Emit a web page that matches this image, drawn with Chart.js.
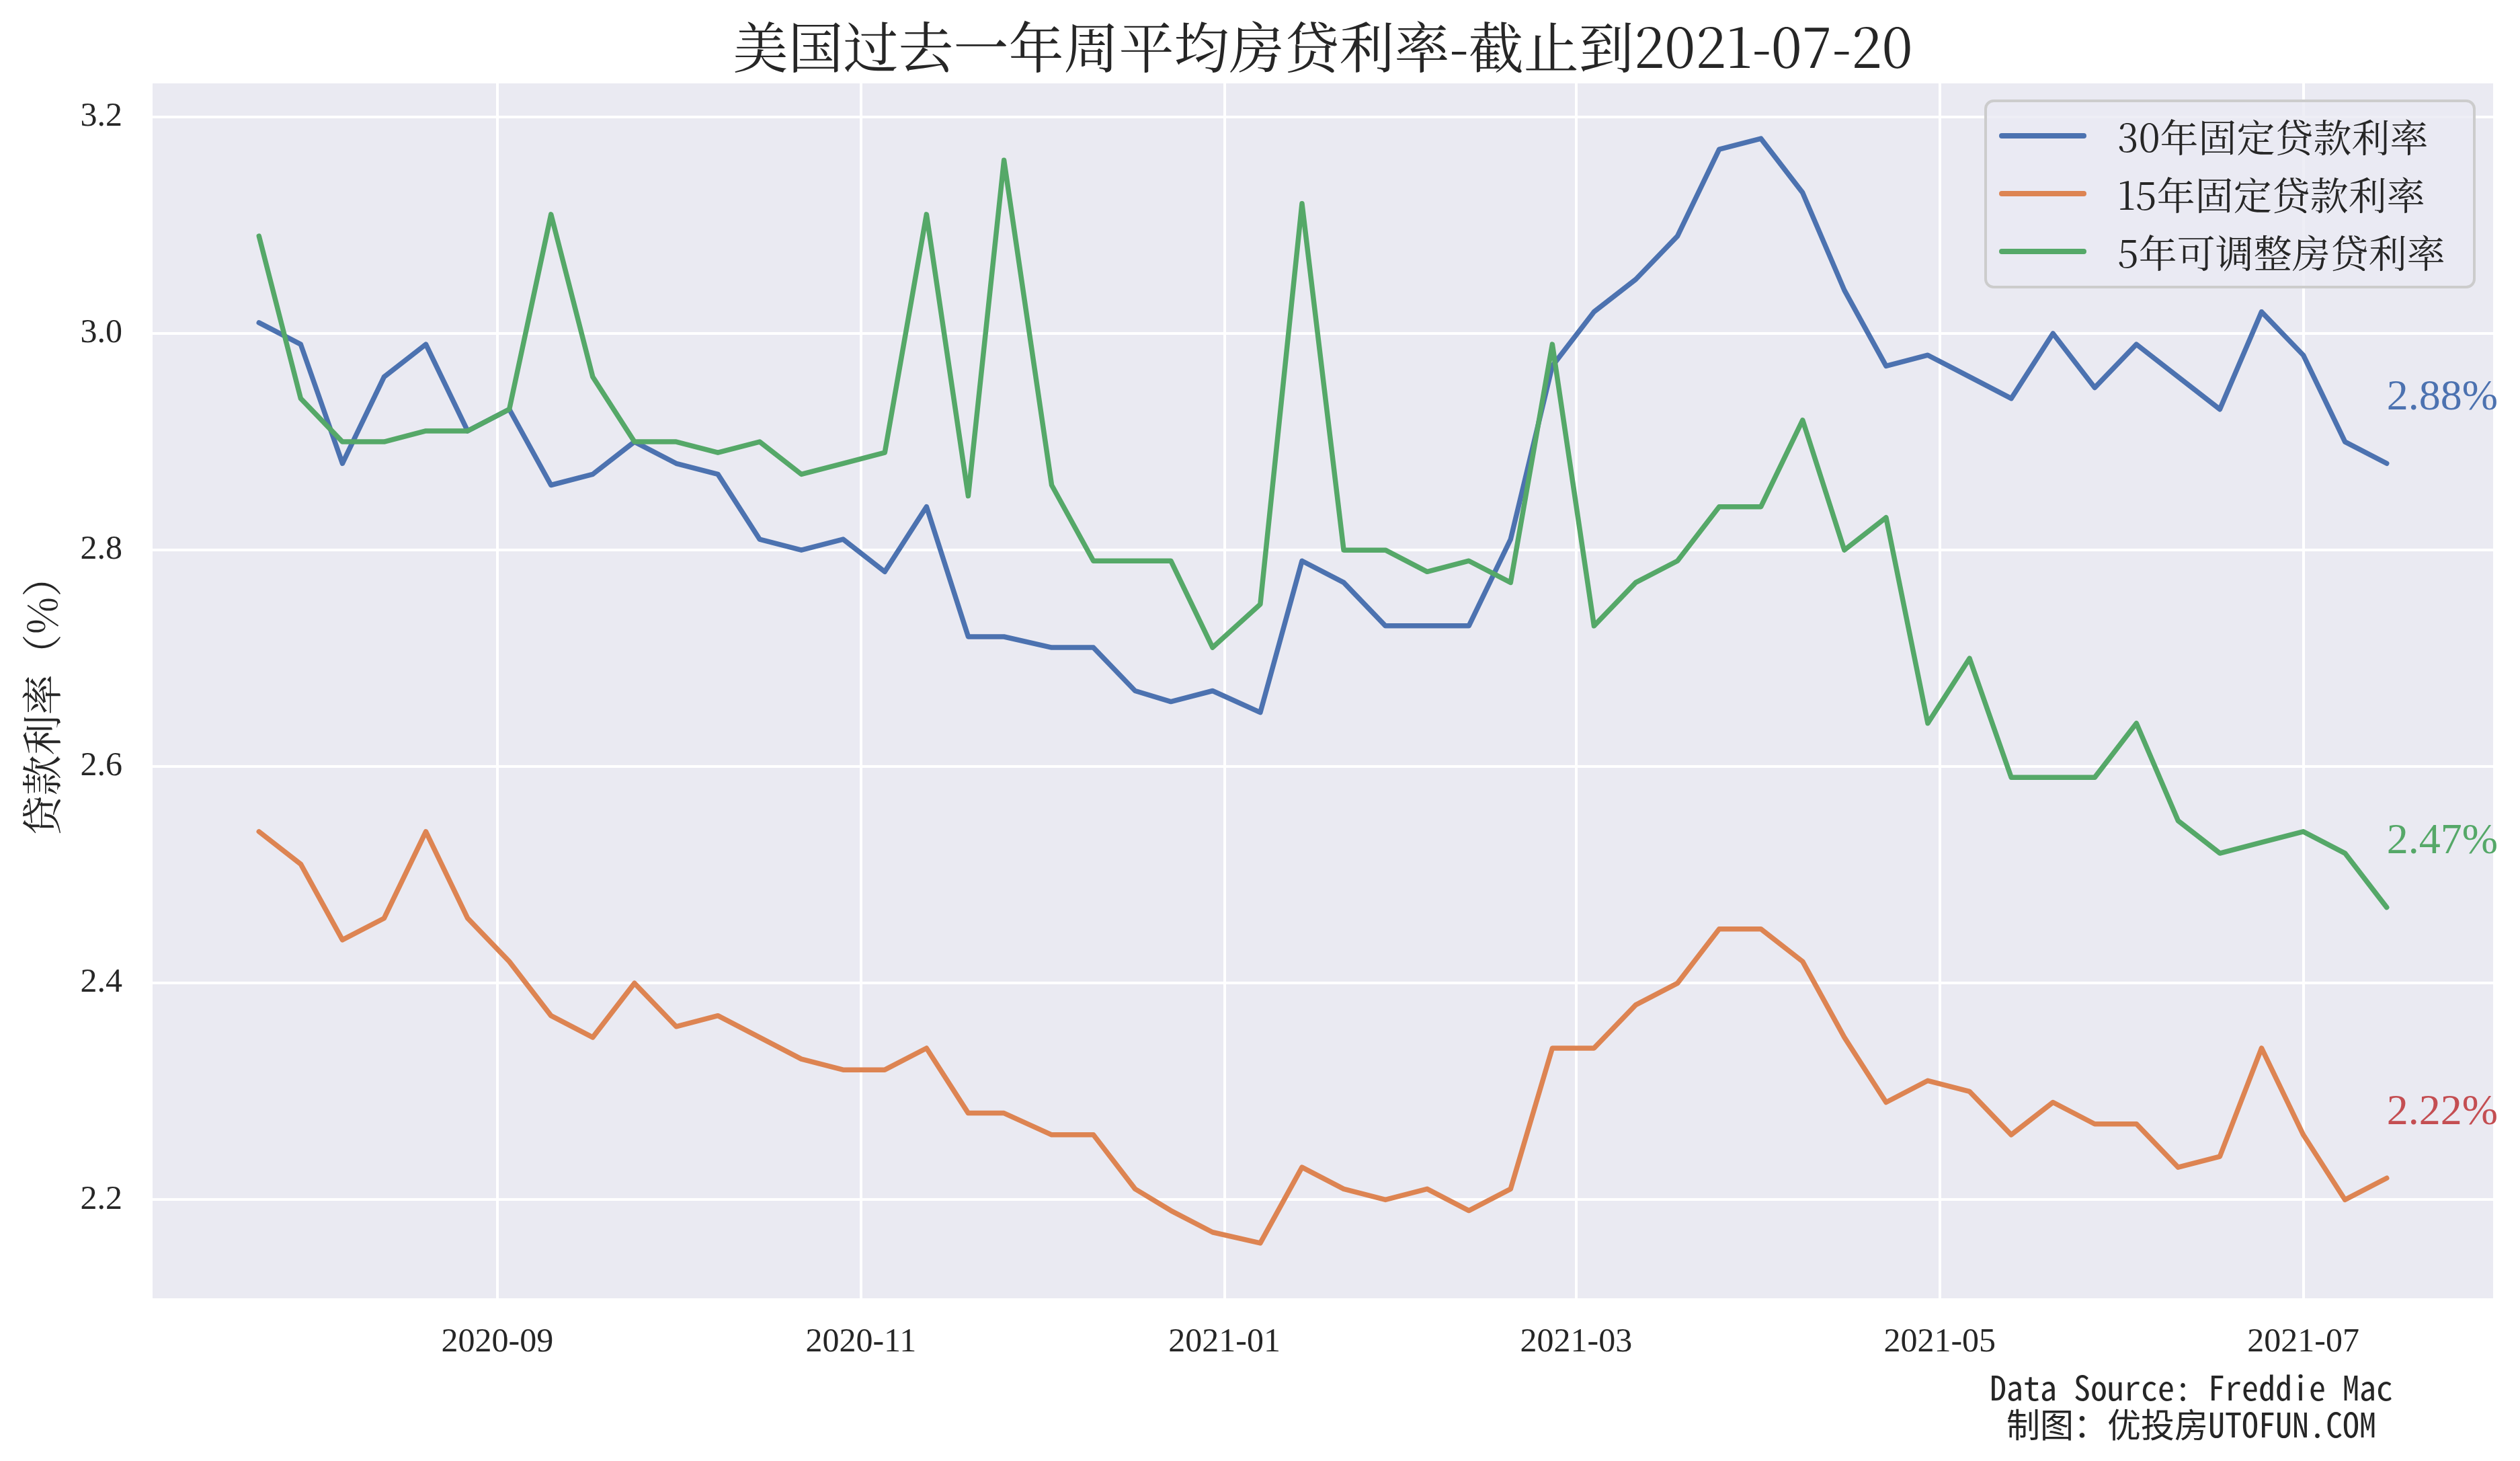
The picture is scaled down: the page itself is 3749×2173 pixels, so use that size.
<!DOCTYPE html>
<html>
<head>
<meta charset="utf-8">
<script src="https://cdn.jsdelivr.net/npm/chart.js@4.4.1/dist/chart.umd.min.js"></script>
<style>
  html, body { margin: 0; padding: 0; background: #ffffff; }
  #wrap { width: 3749px; height: 2173px; position: relative; }
</style>
</head>
<body>
<div id="wrap"><canvas id="c" width="3749" height="2173"></canvas></div>
<script>
// ---------------- data ----------------
const chartTitle = '美国过去一年周平均房贷利率-截止到2021-07-20';
const yAxisLabel = '贷款利率（%）';
const seriesNames = ['30年固定贷款利率', '15年固定贷款利率', '5年可调整房贷利率'];
const footerLines = ['Data Source: Freddie Mac', '制图：优投房UTOFUN.COM'];

const dates = [
  '2020-07-23','2020-07-30','2020-08-06','2020-08-13','2020-08-20','2020-08-27',
  '2020-09-03','2020-09-10','2020-09-17','2020-09-24','2020-10-01','2020-10-08',
  '2020-10-15','2020-10-22','2020-10-29','2020-11-05','2020-11-12','2020-11-19',
  '2020-11-25','2020-12-03','2020-12-10','2020-12-17','2020-12-23','2020-12-30',
  '2021-01-07','2021-01-14','2021-01-21','2021-01-28','2021-02-04','2021-02-11',
  '2021-02-18','2021-02-25','2021-03-04','2021-03-11','2021-03-18','2021-03-25',
  '2021-04-01','2021-04-08','2021-04-15','2021-04-22','2021-04-29','2021-05-06',
  '2021-05-13','2021-05-20','2021-05-27','2021-06-03','2021-06-10','2021-06-17',
  '2021-06-24','2021-07-01','2021-07-08','2021-07-15'
];

const rate30 = [
  3.01, 2.99, 2.88, 2.96, 2.99, 2.91, 2.93, 2.86, 2.87, 2.90, 2.88, 2.87,
  2.81, 2.80, 2.81, 2.78, 2.84, 2.72, 2.72, 2.71, 2.71, 2.67, 2.66, 2.67,
  2.65, 2.79, 2.77, 2.73, 2.73, 2.73, 2.81, 2.97, 3.02, 3.05, 3.09, 3.17,
  3.18, 3.13, 3.04, 2.97, 2.98, 2.96, 2.94, 3.00, 2.95, 2.99, 2.96, 2.93,
  3.02, 2.98, 2.90, 2.88
];

const rate15 = [
  2.54, 2.51, 2.44, 2.46, 2.54, 2.46, 2.42, 2.37, 2.35, 2.40, 2.36, 2.37,
  2.35, 2.33, 2.32, 2.32, 2.34, 2.28, 2.28, 2.26, 2.26, 2.21, 2.19, 2.17,
  2.16, 2.23, 2.21, 2.20, 2.21, 2.19, 2.21, 2.34, 2.34, 2.38, 2.40, 2.45,
  2.45, 2.42, 2.35, 2.29, 2.31, 2.30, 2.26, 2.29, 2.27, 2.27, 2.23, 2.24,
  2.34, 2.26, 2.20, 2.22
];

const arm5 = [
  3.09, 2.94, 2.90, 2.90, 2.91, 2.91, 2.93, 3.11, 2.96, 2.90, 2.90, 2.89,
  2.90, 2.87, 2.88, 2.89, 3.11, 2.85, 3.16, 2.86, 2.79, 2.79, 2.79, 2.71,
  2.75, 3.12, 2.80, 2.80, 2.78, 2.79, 2.77, 2.99, 2.73, 2.77, 2.79, 2.84,
  2.84, 2.92, 2.80, 2.83, 2.64, 2.70, 2.59, 2.59, 2.59, 2.64, 2.55, 2.52,
  2.53, 2.54, 2.52, 2.47
];

const yTickValues = [2.2, 2.4, 2.6, 2.8, 3.0, 3.2];
const xTickDates = ['2020-09-01', '2020-11-01', '2021-01-01', '2021-03-01', '2021-05-01', '2021-07-01'];
const xTickLabels = ['2020-09', '2020-11', '2021-01', '2021-03', '2021-05', '2021-07'];

// ---------------- helpers ----------------
function dayNum(s) {
  const p = s.split('-').map(Number);
  return Date.UTC(p[0], p[1] - 1, p[2]) / 86400000;
}
const xs = dates.map(dayNum);
const xTickNums = xTickDates.map(dayNum);
const toPoints = arr => arr.map((v, i) => ({ x: xs[i], y: v }));

const lineColors = ['#4C72B0', '#DD8452', '#55A868'];
const labelColors = ['#4C72B0', '#C44E52', '#55A868'];
const seriesData = [rate30, rate15, arm5];

const xFirst = xs[0], xLast = xs[xs.length - 1];
const xPad = (xLast - xFirst) * 0.05;
const allY = rate30.concat(rate15, arm5);
const yLo = Math.min(...allY), yHi = Math.max(...allY);
const yPad = (yHi - yLo) * 0.05;

const TEXT = '#262626';
const SERIF = '"Liberation Serif", "DejaVu Serif", serif';
const CJK = '"Noto Serif CJK SC", "Noto Sans Mono CJK SC", "Noto Sans CJK SC", sans-serif';
const CJKMONO = '"Noto Sans Mono CJK SC", "Noto Sans CJK SC", sans-serif';

// ---------------- plugins ----------------
const bgPlugin = {
  id: 'bg',
  beforeDraw(chart) {
    const { ctx, chartArea: a } = chart;
    ctx.save();
    ctx.fillStyle = '#ffffff';
    ctx.fillRect(0, 0, chart.width, chart.height);
    ctx.fillStyle = '#EAEAF2';
    ctx.fillRect(a.left, a.top, a.right - a.left, a.bottom - a.top);
    ctx.restore();
  }
};

function roundRect(ctx, x, y, w, h, r) {
  ctx.beginPath();
  ctx.moveTo(x + r, y);
  ctx.lineTo(x + w - r, y);
  ctx.arcTo(x + w, y, x + w, y + r, r);
  ctx.lineTo(x + w, y + h - r);
  ctx.arcTo(x + w, y + h, x + w - r, y + h, r);
  ctx.lineTo(x + r, y + h);
  ctx.arcTo(x, y + h, x, y + h - r, r);
  ctx.lineTo(x, y + r);
  ctx.arcTo(x, y, x + r, y, r);
  ctx.closePath();
}

const decoPlugin = {
  id: 'deco',
  afterDraw(chart) {
    const { ctx, chartArea: a } = chart;
    const xS = chart.scales.x, yS = chart.scales.y;
    ctx.save();

    // title
    ctx.fillStyle = TEXT;
    ctx.font = '82px ' + CJK;
    ctx.textAlign = 'center';
    ctx.textBaseline = 'middle';
    ctx.fillText(chartTitle, (a.left + a.right) / 2, 70);

    // y axis label
    ctx.save();
    ctx.translate(62, (a.top + a.bottom) / 2 + 8);
    ctx.rotate(-Math.PI / 2);
    ctx.font = '60px ' + CJK;
    ctx.textAlign = 'center';
    ctx.textBaseline = 'middle';
    ctx.fillText(yAxisLabel, 0, 0);
    ctx.restore();

    // last-value annotations
    ctx.font = '64px ' + SERIF;
    ctx.textAlign = 'left';
    ctx.textBaseline = 'alphabetic';
    seriesData.forEach((arr, i) => {
      const v = arr[arr.length - 1];
      ctx.fillStyle = labelColors[i];
      ctx.fillText(v.toFixed(2) + '%', xS.getPixelForValue(xLast), yS.getPixelForValue(v + 0.05));
    });

    // legend
    const lx = 2954, ly = 150, lw = 727, lh = 277;
    roundRect(ctx, lx, ly, lw, lh, 12);
    ctx.fillStyle = 'rgba(234,234,242,0.8)';
    ctx.fill();
    ctx.lineWidth = 4;
    ctx.strokeStyle = '#CCCCCC';
    ctx.stroke();
    ctx.font = '57px ' + CJK;
    ctx.textBaseline = 'middle';
    ctx.textAlign = 'left';
    seriesNames.forEach((name, i) => {
      const yy = 202 + i * 86;
      ctx.beginPath();
      ctx.moveTo(2978, yy);
      ctx.lineTo(3100, yy);
      ctx.strokeStyle = lineColors[i];
      ctx.lineWidth = 8;
      ctx.lineCap = 'round';
      ctx.stroke();
      ctx.fillStyle = TEXT;
      ctx.fillText(name, 3150, yy + 2);
    });

    // footer
    ctx.fillStyle = TEXT;
    ctx.font = '50px ' + CJKMONO;
    ctx.textAlign = 'center';
    ctx.textBaseline = 'alphabetic';
    ctx.fillText(footerLines[0], 3260, 2083);
    ctx.fillText(footerLines[1], 3260, 2138);

    ctx.restore();
  }
};

// ---------------- chart ----------------
const datasets = seriesData.map((arr, i) => ({
  label: seriesNames[i],
  data: toPoints(arr),
  borderColor: lineColors[i],
  backgroundColor: lineColors[i],
  borderWidth: 7.5,
  pointRadius: 0,
  pointHoverRadius: 0,
  tension: 0,
  fill: false,
  borderCapStyle: 'round',
  borderJoinStyle: 'round',
  order: 2 - i
}));

new Chart(document.getElementById('c'), {
  type: 'line',
  data: { datasets },
  plugins: [bgPlugin, decoPlugin],
  options: {
    responsive: false,
    animation: false,
    devicePixelRatio: 1,
    layout: { padding: { left: 0, right: 40, top: 124, bottom: 0 } },
    plugins: {
      legend: { display: false },
      title: { display: false },
      tooltip: { enabled: false }
    },
    scales: {
      x: {
        type: 'linear',
        min: xFirst - xPad,
        max: xLast + xPad,
        afterBuildTicks(scale) { scale.ticks = xTickNums.map(v => ({ value: v })); },
        afterFit(scale) { scale.height = 242; },
        grid: { color: '#ffffff', lineWidth: 4, drawTicks: false },
        border: { display: false },
        ticks: {
          autoSkip: false,
          maxRotation: 0,
          padding: 36,
          color: TEXT,
          font: { family: SERIF, size: 50 },
          callback(v) {
            const k = xTickNums.indexOf(v);
            return k >= 0 ? xTickLabels[k] : '';
          }
        }
      },
      y: {
        type: 'linear',
        min: yLo - yPad,
        max: yHi + yPad,
        afterBuildTicks(scale) { scale.ticks = yTickValues.map(v => ({ value: v })); },
        afterFit(scale) { scale.width = 227; },
        grid: { color: '#ffffff', lineWidth: 4, drawTicks: false },
        border: { display: false },
        ticks: {
          padding: 45,
          color: TEXT,
          font: { family: SERIF, size: 50 },
          callback(v) { return Number(v).toFixed(1); }
        }
      }
    }
  }
});
</script>
</body>
</html>
